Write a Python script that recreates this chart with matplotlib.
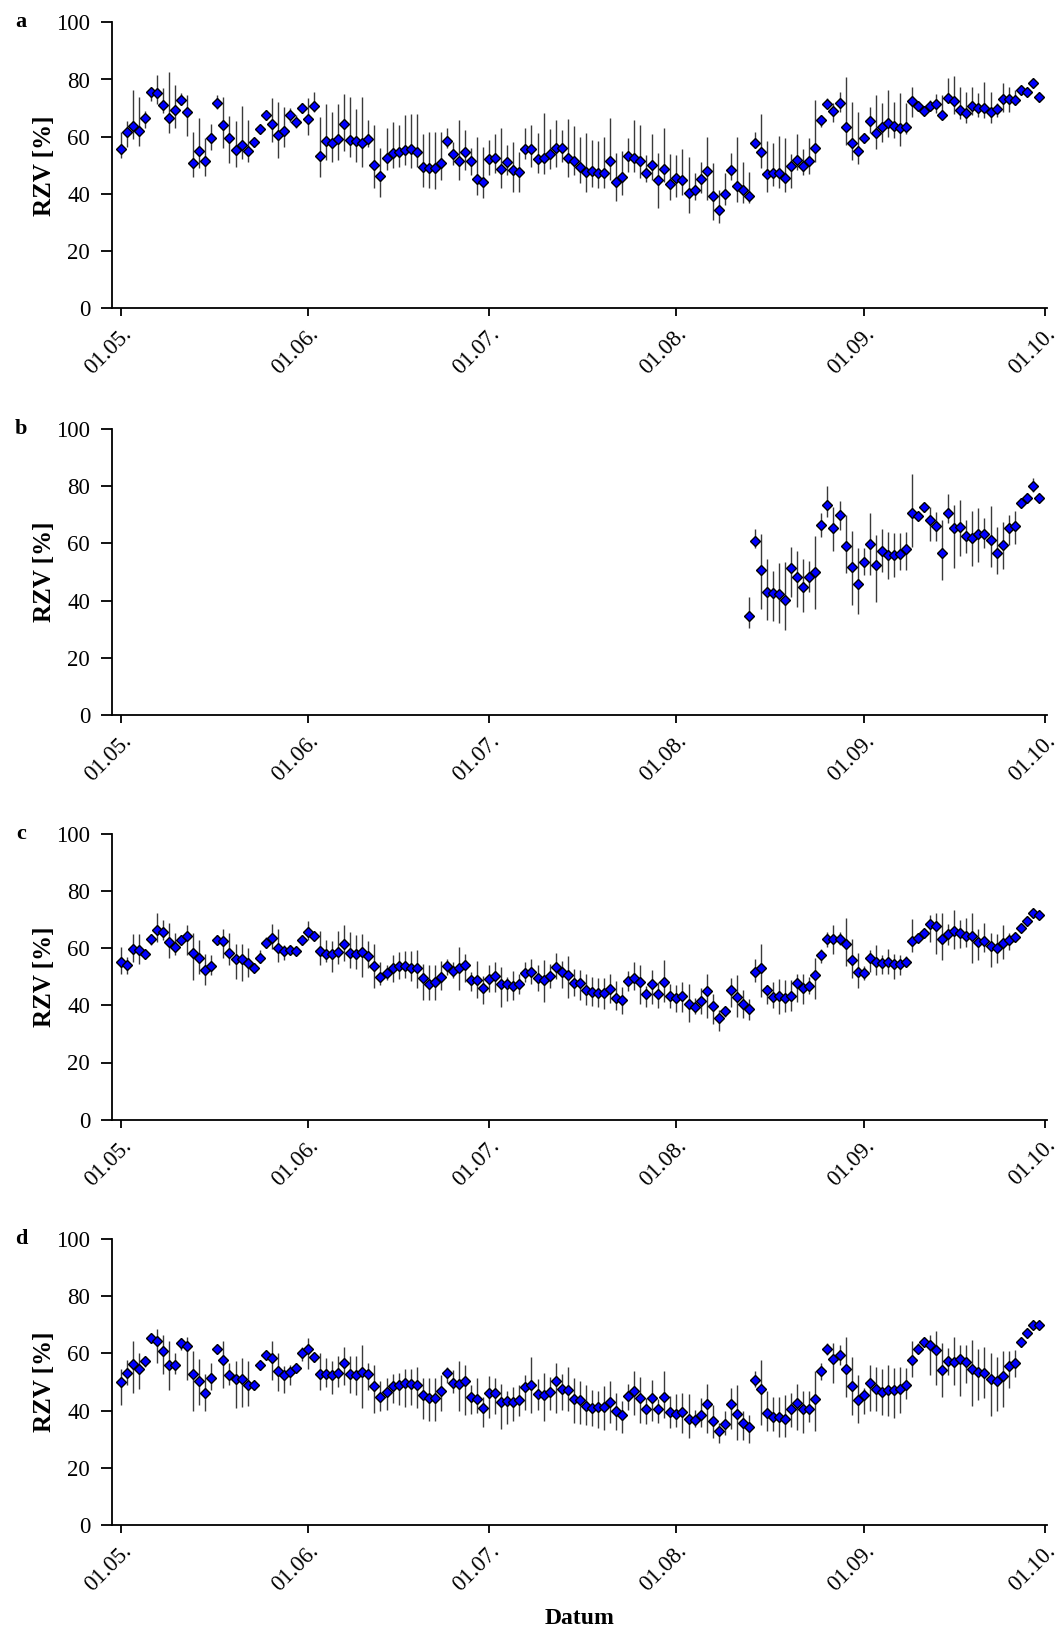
import matplotlib
matplotlib.use("Agg")
import matplotlib.pyplot as plt
import numpy as np

plt.rcParams['font.family'] = ['Liberation Serif', 'DejaVu Serif']

# days since 01.05.
tick_days = [0, 31, 61, 92, 123, 153]
tick_labels = ['01.05.', '01.06.', '01.07.', '01.08.', '01.09.', '01.10.']
y_ticks = [0, 20, 40, 60, 80, 100]
panel_names = ['a', 'b', 'c', 'd']

days_full = list(range(153))
days_b = list(range(104, 153))

# panel a: mean, lower and upper end of the bar
a_val = [55.6, 61.8, 63.9, 62.0, 66.6, 75.6, 75.2, 71.1, 66.7, 69.2,
         72.8, 68.6, 50.7, 54.9, 51.5, 59.7, 71.9, 64.1, 59.4, 55.5,
         57.1, 55.1, 58.3, 62.6, 67.6, 64.5, 60.6, 62.0, 67.6, 65.0,
         70.0, 66.2, 70.9, 53.4, 58.6, 57.9, 59.3, 64.3, 59.0, 58.6,
         57.8, 59.3, 50.0, 46.2, 52.6, 54.3, 54.8, 55.4, 55.7, 54.7,
         49.5, 49.1, 49.1, 50.9, 58.6, 54.1, 51.6, 54.7, 51.5, 45.2,
         44.3, 52.1, 52.4, 48.7, 51.2, 48.3, 47.6, 55.6, 55.6, 52.2,
         52.7, 54.1, 55.9, 56.2, 52.7, 51.6, 49.3, 47.7, 48.0, 47.4,
         47.4, 51.6, 44.1, 46.0, 53.4, 52.4, 51.4, 47.2, 50.0, 45.0,
         48.7, 43.6, 45.5, 45.0, 40.3, 41.4, 45.2, 48.1, 39.3, 34.3,
         39.9, 48.4, 42.7, 41.4, 39.3, 57.9, 54.5, 46.9, 47.3, 47.2,
         45.5, 49.9, 51.9, 49.9, 51.4, 56.2, 65.9, 71.3, 68.9, 71.7,
         63.5, 57.7, 55.0, 59.4, 65.5, 61.2, 63.3, 64.7, 63.8, 62.9,
         63.4, 72.5, 70.6, 69.1, 70.6, 71.4, 67.7, 73.7, 72.5, 69.5,
         68.2, 70.6, 69.9, 70.0, 68.6, 69.7, 73.3, 73.2, 72.8, 76.5,
         75.8, 78.7, 73.9]
a_hi = [61.5, 65.5, 76.3, 74.0, 69.0, 76.9, 81.5, 77.2, 82.5, 78.1,
        75.2, 74.5, 61.5, 66.7, 59.7, 64.3, 74.6, 73.8, 67.2, 65.5,
        70.9, 65.8, 59.7, 64.1, 69.3, 73.7, 72.0, 70.5, 69.9, 67.6,
        71.7, 73.4, 75.5, 67.0, 71.3, 68.8, 71.3, 74.8, 74.0, 69.6,
        74.0, 65.8, 64.1, 55.9, 62.9, 65.3, 64.1, 67.6, 67.8, 67.8,
        60.8, 61.8, 61.5, 61.8, 63.2, 58.3, 65.8, 62.4, 55.9, 60.0,
        56.5, 58.9, 60.8, 62.9, 57.1, 58.3, 54.8, 63.2, 64.1, 61.2,
        68.4, 62.6, 65.8, 62.4, 66.1, 63.8, 60.0, 61.4, 58.9, 58.5,
        60.0, 66.7, 54.2, 55.0, 59.7, 65.8, 64.1, 53.6, 60.8, 54.2,
        63.2, 53.8, 53.6, 55.6, 53.0, 47.2, 51.3, 59.8, 50.7, 41.4,
        47.2, 54.2, 59.8, 51.3, 47.8, 61.5, 67.9, 58.6, 57.7, 60.4,
        59.4, 53.8, 61.0, 55.7, 59.7, 72.8, 67.6, 73.4, 71.7, 75.5,
        81.0, 72.0, 68.8, 61.2, 70.5, 74.6, 71.7, 76.3, 72.0, 75.2,
        71.7, 77.5, 71.7, 70.5, 72.8, 74.8, 74.6, 80.4, 81.2, 77.5,
        75.5, 77.5, 75.2, 79.3, 75.5, 71.7, 78.7, 77.5, 76.3, 77.5,
        77.0, 79.8, 74.9]
a_lo = [52.7, 56.3, 59.2, 56.9, 63.0, 72.5, 71.3, 68.2, 61.2, 62.9,
        71.1, 60.4, 45.8, 49.0, 46.3, 55.4, 69.6, 55.9, 50.7, 49.5,
        52.2, 51.3, 56.5, 61.2, 65.9, 58.3, 52.7, 56.5, 65.3, 62.9,
        68.2, 60.6, 68.8, 46.0, 51.9, 51.3, 51.9, 55.0, 53.0, 51.3,
        49.5, 56.5, 42.0, 39.0, 48.4, 49.0, 49.5, 50.1, 49.0, 49.5,
        42.5, 42.0, 41.8, 44.9, 55.9, 50.1, 44.9, 48.4, 46.6, 39.6,
        38.5, 46.6, 47.2, 42.2, 46.6, 40.6, 40.6, 52.2, 49.5, 47.2,
        46.9, 48.7, 49.5, 51.3, 46.0, 46.6, 43.7, 40.6, 42.5, 42.0,
        42.0, 44.9, 37.5, 39.6, 47.8, 47.8, 45.5, 44.3, 44.9, 35.0,
        44.3, 37.9, 39.0, 39.6, 33.2, 37.9, 40.2, 37.9, 30.9, 29.7,
        36.1, 44.9, 37.3, 36.7, 36.7, 55.9, 49.2, 40.8, 42.9, 42.2,
        40.6, 42.0, 48.4, 46.6, 46.9, 51.3, 63.5, 69.9, 65.3, 68.8,
        57.1, 51.9, 50.3, 57.7, 61.2, 55.7, 58.0, 60.0, 59.4, 56.9,
        60.8, 67.0, 69.3, 67.8, 69.3, 68.2, 66.4, 71.7, 67.8, 66.2,
        64.7, 67.6, 67.0, 66.4, 64.7, 67.0, 68.8, 68.8, 71.1, 75.2,
        74.6, 77.5, 72.9]

# panel b (only from mid August)
b_val = [34.7, 60.8, 50.8, 42.9, 42.7, 42.4, 40.2, 51.4, 48.4, 44.6,
         48.4, 50.0, 66.6, 73.4, 65.5, 69.8, 59.1, 51.6, 45.7, 53.6,
         59.7, 52.3, 57.5, 56.1, 56.1, 56.3, 58.0, 70.5, 69.7, 72.7,
         68.2, 66.1, 56.6, 70.5, 65.4, 65.9, 62.7, 61.8, 63.2, 63.3,
         61.3, 56.8, 59.6, 65.4, 66.1, 74.2, 75.9, 80.0, 76.0]
b_hi = [41.4, 64.9, 63.3, 54.4, 50.5, 53.3, 53.6, 58.9, 57.3, 54.4,
        54.0, 62.6, 70.5, 80.1, 72.8, 74.9, 69.9, 64.3, 58.3, 58.3,
        70.5, 62.9, 64.9, 64.1, 63.5, 63.5, 64.1, 84.1, 71.1, 74.2,
        72.6, 71.1, 68.2, 77.3, 73.4, 75.2, 68.2, 71.4, 72.3, 68.8,
        73.1, 65.9, 67.6, 69.9, 71.4, 75.8, 77.5, 82.8, 77.0]
b_lo = [30.3, 58.3, 36.9, 33.2, 32.9, 32.1, 29.7, 41.4, 37.9, 36.1,
        43.1, 36.9, 62.4, 69.3, 57.5, 64.7, 49.5, 38.5, 35.2, 49.0,
        49.0, 39.6, 50.1, 47.4, 48.4, 50.7, 50.7, 58.9, 68.2, 71.1,
        61.0, 61.0, 47.2, 67.0, 51.3, 55.6, 56.5, 52.1, 53.6, 58.3,
        51.9, 49.3, 50.9, 59.4, 59.8, 72.8, 74.3, 78.1, 75.0]

# panel c
c_val = [55.2, 54.0, 59.8, 59.3, 58.1, 63.3, 66.5, 65.7, 62.2, 60.4,
         62.7, 64.1, 58.3, 56.6, 52.2, 53.8, 63.0, 62.5, 58.3, 56.3,
         56.1, 54.8, 53.1, 56.6, 61.9, 63.6, 60.1, 59.0, 59.5, 58.9,
         62.9, 65.7, 64.1, 58.9, 58.0, 58.0, 58.8, 61.6, 58.3, 58.1,
         58.8, 57.2, 53.9, 49.9, 51.3, 52.9, 53.6, 53.7, 53.2, 52.9,
         49.4, 47.6, 48.2, 49.9, 53.7, 51.9, 53.1, 54.2, 48.8, 48.7,
         46.1, 49.1, 50.2, 47.4, 47.3, 46.9, 47.6, 51.3, 51.7, 49.6,
         48.8, 50.2, 53.4, 51.5, 50.5, 47.8, 47.8, 45.4, 44.6, 44.2,
         44.4, 45.8, 42.6, 41.9, 48.4, 49.7, 48.1, 43.9, 47.3, 44.0,
         48.2, 43.4, 42.7, 43.1, 40.4, 39.3, 41.6, 45.1, 39.6, 35.6,
         38.0, 45.3, 43.0, 40.3, 38.6, 51.7, 53.1, 45.3, 43.0, 43.4,
         42.7, 43.4, 47.7, 46.1, 46.7, 50.6, 57.7, 63.3, 63.3, 63.3,
         61.6, 55.9, 51.7, 51.2, 56.7, 55.3, 54.8, 55.2, 54.6, 54.6,
         55.3, 62.6, 63.7, 65.3, 68.3, 67.6, 63.1, 64.8, 66.0, 65.3,
         64.1, 64.4, 62.0, 62.6, 60.7, 60.0, 61.9, 63.0, 63.9, 67.2,
         69.5, 72.1, 71.4]
c_hi = [60.4, 56.9, 65.1, 65.1, 59.5, 65.1, 72.1, 69.7, 68.9, 65.4,
        64.7, 68.2, 65.4, 62.7, 58.1, 57.5, 64.6, 66.6, 65.4, 61.6,
        61.6, 60.1, 54.9, 59.2, 63.8, 68.3, 66.6, 61.2, 61.0, 60.0,
        64.5, 69.4, 65.8, 65.9, 62.7, 62.4, 65.9, 68.0, 65.7, 64.7,
        65.1, 62.4, 61.6, 55.2, 54.0, 57.5, 58.7, 58.9, 58.9, 59.3,
        54.6, 54.0, 54.0, 55.4, 56.3, 55.1, 60.4, 58.1, 51.7, 55.4,
        50.3, 54.0, 55.0, 53.4, 49.9, 51.9, 50.8, 55.2, 56.3, 54.2,
        55.8, 54.6, 58.4, 55.4, 57.3, 52.6, 52.3, 51.1, 49.8, 49.4,
        49.4, 50.8, 48.4, 46.4, 51.9, 55.2, 54.0, 46.8, 52.3, 48.2,
        55.8, 47.3, 47.0, 48.2, 47.6, 42.4, 46.2, 50.8, 44.1, 38.3,
        39.5, 49.4, 50.5, 45.3, 42.1, 56.3, 61.6, 47.0, 48.2, 49.1,
        48.8, 48.8, 51.1, 50.8, 49.9, 56.6, 59.8, 65.7, 68.2, 65.7,
        70.5, 63.3, 58.4, 53.8, 59.3, 61.2, 57.5, 59.8, 58.1, 57.5,
        57.4, 70.3, 65.2, 66.7, 71.7, 72.4, 72.4, 68.6, 73.2, 69.7,
        70.5, 72.1, 66.6, 68.9, 65.4, 65.1, 68.2, 65.4, 65.4, 68.6,
        71.0, 73.2, 72.6]
c_lo = [51.1, 50.8, 55.2, 54.6, 56.6, 61.2, 62.2, 62.7, 56.6, 57.5,
        61.2, 57.7, 48.8, 51.1, 47.0, 50.5, 61.4, 56.6, 54.0, 49.1,
        48.4, 49.9, 51.7, 54.9, 60.0, 59.6, 55.2, 55.8, 57.9, 57.7,
        61.2, 62.7, 62.8, 54.2, 55.2, 51.7, 54.6, 55.4, 52.9, 52.6,
        49.9, 52.9, 45.9, 47.0, 48.8, 48.2, 49.1, 49.4, 48.4, 45.9,
        41.8, 41.8, 41.8, 45.3, 50.5, 49.4, 45.3, 48.2, 44.9, 42.6,
        40.3, 44.7, 44.7, 39.5, 41.4, 41.8, 44.1, 48.2, 47.6, 44.9,
        41.2, 46.1, 49.1, 45.9, 42.4, 43.1, 41.9, 40.0, 39.9, 39.3,
        38.6, 40.7, 38.5, 37.1, 44.9, 45.3, 40.3, 39.5, 40.3, 38.9,
        41.2, 38.9, 37.7, 37.7, 34.0, 36.8, 37.1, 35.6, 33.3, 31.0,
        36.0, 39.5, 36.0, 35.6, 34.8, 48.2, 43.0, 40.6, 39.1, 36.8,
        37.7, 37.9, 41.2, 40.6, 43.9, 42.1, 54.9, 60.4, 58.1, 61.2,
        53.8, 49.4, 45.9, 48.8, 51.7, 50.5, 51.1, 50.8, 49.1, 50.5,
        53.4, 58.7, 62.3, 63.9, 62.2, 58.1, 55.8, 61.0, 59.8, 60.1,
        60.4, 54.9, 55.8, 58.7, 53.4, 54.9, 56.3, 59.3, 62.3, 65.7,
        68.0, 70.9, 70.2]

# panel d
d_val = [50.1, 53.1, 56.2, 54.6, 57.2, 65.3, 64.4, 60.9, 56.0, 56.0,
         63.6, 62.7, 52.9, 50.3, 46.1, 51.5, 61.4, 57.8, 52.5, 51.2,
         50.9, 49.0, 48.8, 55.8, 59.4, 58.5, 53.8, 52.6, 53.4, 55.0,
         60.2, 61.5, 58.7, 52.9, 52.9, 52.5, 53.2, 56.8, 52.7, 52.6,
         53.4, 52.9, 48.7, 44.7, 46.4, 48.5, 48.9, 49.5, 49.2, 49.1,
         45.6, 44.3, 44.5, 46.7, 53.0, 49.8, 49.4, 50.3, 44.9, 44.1,
         41.0, 46.1, 46.0, 42.9, 43.4, 43.1, 43.8, 48.2, 48.8, 45.9,
         45.5, 46.4, 50.2, 47.5, 47.1, 44.1, 43.6, 41.7, 41.0, 41.2,
         41.4, 42.9, 39.7, 38.3, 45.2, 47.0, 44.5, 40.6, 44.5, 40.5,
         44.9, 39.6, 38.9, 39.4, 37.1, 36.6, 38.5, 42.2, 36.3, 32.8,
         35.4, 42.2, 38.9, 35.6, 34.2, 50.8, 47.5, 39.2, 37.7, 37.8,
         37.2, 40.5, 42.5, 40.4, 40.4, 44.2, 53.7, 61.7, 58.0, 59.6,
         54.5, 48.7, 43.8, 45.4, 49.7, 47.5, 46.4, 47.3, 47.1, 47.4,
         48.9, 57.6, 61.7, 63.9, 62.8, 61.3, 54.3, 57.5, 56.9, 58.2,
         56.9, 54.5, 53.4, 53.3, 51.0, 50.3, 52.0, 55.7, 56.7, 63.9,
         67.2, 70.1, 69.8]
d_hi = [54.5, 57.8, 64.2, 60.3, 58.9, 66.9, 68.5, 66.5, 64.2, 60.1,
        65.3, 65.9, 60.7, 58.0, 52.9, 56.6, 62.7, 64.5, 56.6, 57.5,
        58.3, 57.2, 50.2, 57.2, 60.7, 64.2, 60.1, 55.7, 56.0, 56.5,
        62.4, 65.3, 60.3, 60.1, 58.3, 57.2, 59.2, 62.4, 59.2, 59.2,
        63.0, 56.6, 56.0, 50.2, 51.3, 52.9, 53.1, 54.5, 54.5, 55.2,
        51.3, 51.3, 51.3, 52.5, 55.4, 54.3, 57.5, 56.0, 49.0, 51.3,
        44.9, 52.2, 51.3, 49.4, 46.7, 48.2, 49.0, 52.5, 58.9, 51.2,
        53.1, 51.9, 56.8, 52.9, 55.2, 51.3, 50.5, 49.0, 47.3, 46.7,
        48.7, 50.5, 46.3, 43.5, 49.4, 54.0, 51.9, 44.4, 50.8, 44.0,
        54.0, 45.2, 45.9, 46.1, 45.9, 40.2, 44.4, 49.4, 42.0, 35.8,
        39.7, 47.8, 49.0, 39.7, 38.5, 53.7, 57.8, 46.7, 44.9, 44.9,
        45.5, 46.3, 49.4, 47.0, 46.7, 53.7, 56.6, 63.6, 63.8, 63.0,
        65.9, 58.9, 52.5, 47.8, 56.0, 55.2, 54.5, 56.0, 54.8, 55.2,
        54.8, 64.5, 63.6, 65.3, 66.5, 67.7, 63.6, 61.9, 65.9, 63.0,
        63.0, 64.8, 61.5, 62.4, 60.3, 58.7, 60.7, 61.0, 61.3, 65.3,
        68.5, 71.5, 71.2]
d_lo = [42.0, 49.0, 46.3, 47.5, 55.4, 63.8, 56.8, 52.9, 47.3, 52.9,
        61.3, 50.8, 39.7, 42.0, 39.7, 47.3, 60.1, 47.8, 49.0, 40.8,
        41.4, 41.7, 47.3, 54.3, 58.1, 50.8, 47.0, 46.3, 49.0, 53.4,
        57.2, 54.5, 57.0, 47.3, 48.4, 45.9, 48.4, 49.0, 46.1, 45.5,
        40.8, 47.3, 39.3, 39.7, 40.3, 42.8, 42.0, 41.4, 42.0, 40.8,
        37.0, 36.5, 36.5, 39.7, 49.6, 46.3, 39.7, 38.5, 38.9, 39.1,
        34.2, 37.3, 38.9, 33.5, 35.4, 36.5, 38.0, 40.3, 39.1, 40.1,
        36.2, 40.1, 39.3, 40.1, 39.7, 35.8, 35.4, 35.0, 34.7, 33.8,
        33.3, 35.6, 33.3, 32.1, 40.3, 38.5, 35.6, 35.4, 36.2, 35.8,
        37.3, 33.8, 34.2, 32.3, 30.3, 34.3, 34.3, 32.3, 30.3, 28.6,
        31.5, 33.5, 29.8, 29.8, 28.6, 48.4, 35.0, 32.7, 32.7, 30.9,
        30.9, 34.4, 33.3, 32.3, 35.9, 33.0, 50.8, 59.4, 49.8, 56.0,
        44.9, 38.5, 35.6, 38.8, 39.7, 39.7, 38.5, 38.2, 37.3, 39.1,
        44.0, 51.7, 60.0, 62.4, 52.5, 49.0, 44.7, 52.5, 49.0, 45.2,
        49.6, 41.7, 43.8, 44.3, 38.2, 40.0, 41.4, 47.8, 51.7, 62.4,
        65.7, 68.7, 68.5]

panels = [
    (days_full, a_val, a_lo, a_hi),
    (days_b, b_val, b_lo, b_hi),
    (days_full, c_val, c_lo, c_hi),
    (days_full, d_val, d_lo, d_hi),
]

W, H = 1061, 1632
fig = plt.figure(figsize=(W / 100, H / 100), dpi=100)

left = 112.3 / W
width = (1046.7 - 112.3) / W
height = 286 / H
bottoms_px = [308.3, 715.0, 1119.7, 1525.0]

for i, (x, v, lo, hi) in enumerate(panels):
    ax = fig.add_axes([left, (H - bottoms_px[i]) / H, width, height])
    v = np.array(v)
    lo = np.array(lo)
    hi = np.array(hi)
    ax.errorbar(x, v, yerr=[v - lo, hi - v], fmt='D', ms=5,
                mfc='#0000ff', mec='black', mew=1.0,
                ecolor='#3a3a3a', elinewidth=1.0, capsize=0)
    ax.set_xlim(-1.4, 153.3)
    ax.set_ylim(0, 100)
    ax.set_yticks(y_ticks)
    ax.set_xticks(tick_days)
    ax.set_xticklabels(tick_labels, rotation=45, ha='right',
                       rotation_mode='anchor')
    for s in ['top', 'right']:
        ax.spines[s].set_visible(False)
    for s in ['left', 'bottom']:
        ax.spines[s].set_linewidth(1.3)
    ax.tick_params(axis='both', labelsize=16.5, width=1.3, direction='out')
    ax.tick_params(axis='y', length=8, pad=8)
    ax.tick_params(axis='x', length=6, pad=5)
    ax.set_ylabel('RZV [%]', fontsize=18, fontweight='bold', labelpad=0)
    fig.text(21 / W, (H - bottoms_px[i] + 286) / H, panel_names[i],
             fontsize=16, fontweight='bold', ha='center', va='center')

fig.text(579.5 / W, (H - 1618) / H, 'Datum', fontsize=17,
         fontweight='bold', ha='center', va='center')

fig.savefig('out.png', dpi=100)
